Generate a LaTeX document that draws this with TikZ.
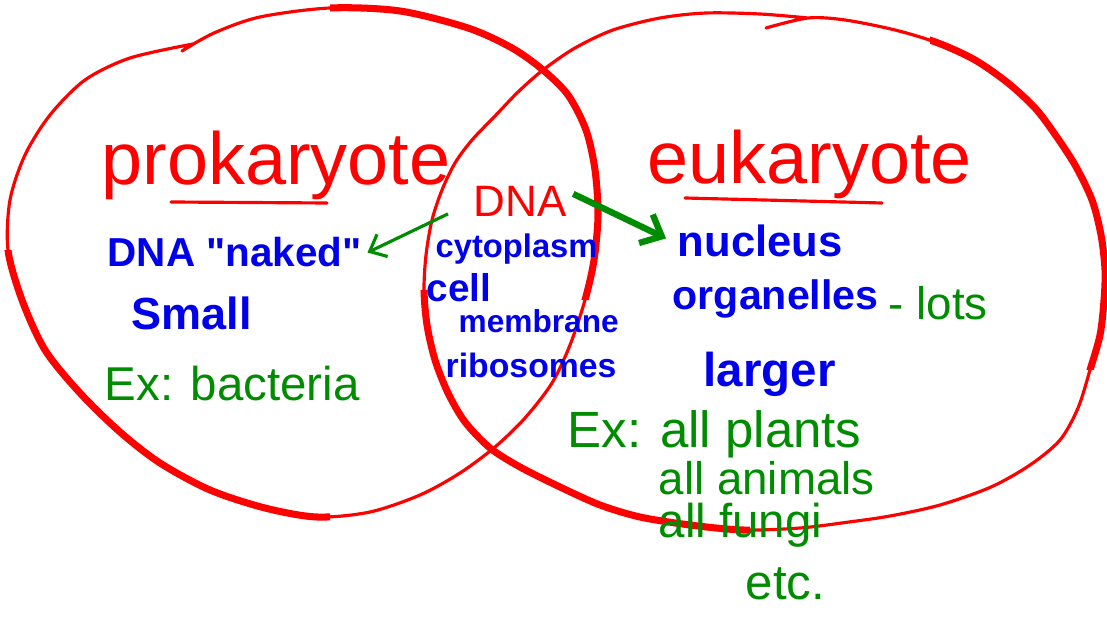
\documentclass[tikz,border=0pt]{standalone}
\usepackage{fontspec}
\setmainfont{Liberation Sans}
\newfontfamily\plainquote{Liberation Sans}
\usetikzlibrary{arrows.meta}
\definecolor{penred}{RGB}{255,0,0}
\definecolor{penblue}{RGB}{0,0,235}
\definecolor{pengreen}{RGB}{0,140,0}
\newcommand{\fz}[1]{\fontsize{#1}{#1}\selectfont}
\newcommand{\dq}{{\plainquote\symbol{34}}}
\newcommand{\prokline}{plot[smooth] coordinates {(182,51) (214,33) (260,17) (330,8) (400,11) (468,28) (512,48) (543,70) (568,95) (586,130) (595,170) (598,215) (594,260) (585,300) (570,345) (552,383) (525,418) (495,447) (460,473) (420,495) (370,512) (317,517) (265,508) (210,490) (160,463) (120,432) (80,393) (45,350) (22,300) (8,250) (10,200) (25,155) (50,115) (85,80) (130,58) (193,44)}}
\newcommand{\eukline}{plot[smooth] coordinates {(766,28) (808,18) (845,20) (895,30) (938,43) (975,60) (1008,83) (1035,108) (1054,133) (1075,165) (1092,200) (1101,235) (1105,270) (1104,300) (1100,335) (1090,370) (1078,408) (1060,440) (1030,465) (991,487) (940,505) (890,516) (849,522) (800,528) (743,530) (690,525) (640,517) (600,505) (560,487) (520,467) (490,448) (465,422) (448,393) (435,360) (427,325) (424,290) (426,255) (432,220) (442,190) (455,163) (472,140) (496,115) (518,92) (543,70) (575,48) (613,30) (660,18) (706,13) (760,14) (808,18)}}
\tikzset{
	redtxt/.style={text=penred, inner sep=0pt, anchor=base west, font=\fz{#1}},
	bluetxt/.style={text=penblue, inner sep=0pt, anchor=base west, font=\fz{#1}\bfseries},
	greentxt/.style={text=pengreen, inner sep=0pt, anchor=base west, font=\fz{#1}},
	thinpen/.style={penred, line width=0.9pt, line cap=round, line join=round},
	thickpen/.style={penred, line width=2pt, line cap=round, line join=round}
}
\begin{document}
\begin{tikzpicture}[x=0.01cm, y=-0.01cm]
		\useasboundingbox (0,0) rectangle (1107,619);
		% prokaryote circle, heavier where the pen pressed
		\draw[thinpen] \prokline;
		\begin{scope}
			\clip (330,-10) rectangle (620,300) (-10,250) rectangle (330,560);
			\draw[thickpen] \prokline;
		\end{scope}
		% eukaryote circle
		\draw[thinpen] \eukline;
		\begin{scope}
			\clip (930,-10) rectangle (1120,370) (400,290) rectangle (750,560);
			\draw[thickpen] \eukline;
		\end{scope}
		
		% titles
		\node[redtxt=21] (prok) at (101,185) {prokaryote};
		\node[redtxt=21] (euk) at (647,184) {eukaryote};
		\draw[thinpen] (171,202) -- (327,203);
		\draw[thinpen] (685,198) -- (882,203);
		
		% left side
		\node[bluetxt=11.5] (naked) at (107,267) {DNA \dq naked\dq};
		\node[bluetxt=12.8] (small) at (131,330) {Small};
		\node[greentxt=13.5] (exbac) at (104,400) {Ex: bacteria};
		
		% middle
		\node[redtxt=12.5] (dna) at (473,217) {DNA};
		\node[bluetxt=9.3] (cyto) at (435,258) {cytoplasm};
		\node[bluetxt=11] (cell) at (426,302) {cell};
		\node[bluetxt=9] (memb) at (458,333) {membrane};
		\node[bluetxt=9.6] (ribo) at (445,378) {ribosomes};
		
		% right side
		\node[bluetxt=12.4] (nucl) at (677,257) {nucleus};
		\node[bluetxt=11.7] (organ) at (672,310) {organelles};
		\node[greentxt=13] (lots) at (888,320) {- lots};
		\node[bluetxt=13.5] (larger) at (703,387) {larger};
		\node[greentxt=14.5] (explants) at (567,447) {Ex: all plants};
		\node[greentxt=13] (animals) at (658,494) {all animals};
		\node[greentxt=13.5] (fungi) at (658,537) {all fungi};
		\node[greentxt=14] (etc) at (745,599) {etc.};
		
		\draw[pengreen, line width=0.9pt, -{Straight Barb[length=4pt, width=7pt]}] ([shift={(-25,12)}]dna.west) -- ([shift={(5,0)}]naked.east);
		\draw[pengreen, line width=1.8pt, -{Straight Barb[length=5pt, width=9pt]}] ([shift={(6,-8)}]dna.east) -- ([shift={(-11,-3)}]nucl.west);
	\end{tikzpicture}
\end{document}
